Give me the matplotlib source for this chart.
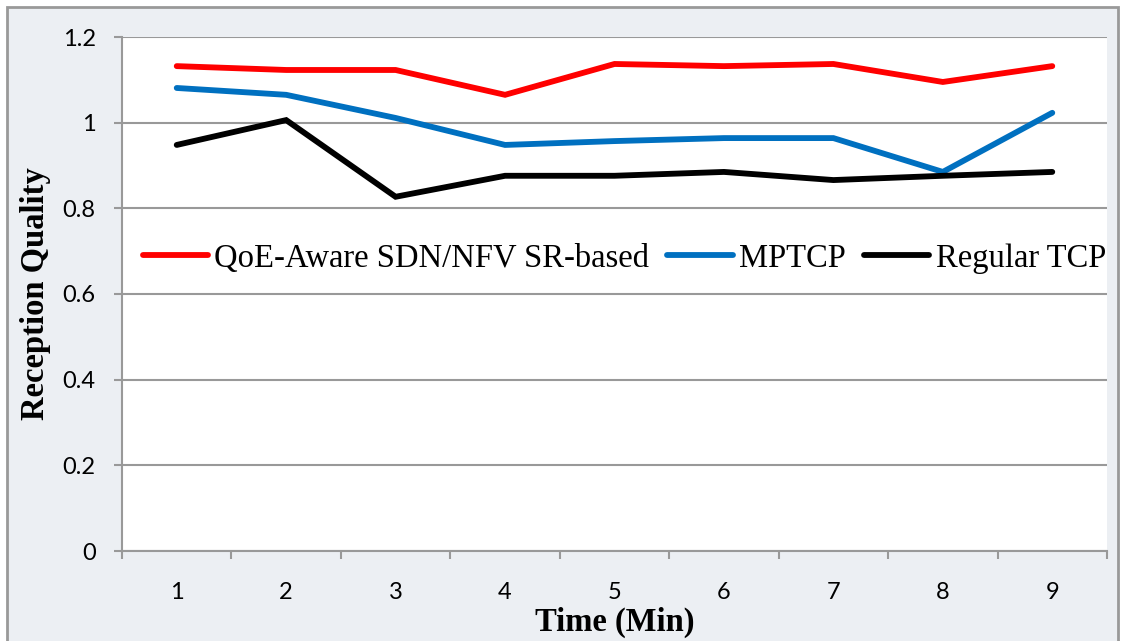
import numpy as np
import matplotlib.pyplot as plt
from matplotlib.patches import Rectangle

# %% Data
minutes = [1, 2, 3, 4, 5, 6, 7, 8, 9]
qoe_sdn = [1.132, 1.123, 1.123, 1.065, 1.137, 1.132, 1.137, 1.095, 1.132]
mptcp = [1.081, 1.065, 1.011, 0.948, 0.957, 0.964, 0.964, 0.885, 1.023]
regular_tcp = [0.948, 1.006, 0.827, 0.876, 0.876, 0.885, 0.866, 0.876, 0.885]

series_labels = ["QoE-Aware SDN/NFV SR-based", "MPTCP", "Regular TCP"]
series_colors = ["#FF0000", "#0070C0", "#000000"]
y_ticks = [0, 0.2, 0.4, 0.6, 0.8, 1.0, 1.2]
y_tick_labels = ["0", "0.2", "0.4", "0.6", "0.8", "1", "1.2"]

serif = ["Liberation Serif", "DejaVu Serif"]
sans = ["Lato", "DejaVu Sans"]
grey = "#999999"

fig = plt.figure(figsize=(11.21, 6.41), dpi=100, facecolor="white")

# chart area background with border (Excel style)
bg = Rectangle((7 / 1121, -0.02), (1118 - 7) / 1121, 1 - 7 / 641 + 0.02,
               transform=fig.transFigure, facecolor="#eceff3",
               edgecolor=grey, lw=2, zorder=-10)
fig.patches.append(bg)

ax = fig.add_axes([122 / 1121, 90 / 641, (1107 - 122) / 1121, (551 - 37) / 641])
ax.set_zorder(1)
ax.set_facecolor("white")

for vals, lab, col in zip([qoe_sdn, mptcp, regular_tcp], series_labels, series_colors):
    ax.plot(minutes, vals, color=col, lw=4.2, solid_capstyle="round",
            solid_joinstyle="miter", label=lab, zorder=3)

ax.set_xlim(0.5, 9.5)
ax.set_ylim(0, 1.2)

ax.set_yticks(y_ticks)
ax.set_yticklabels(y_tick_labels, fontsize=17, family=sans)
ax.yaxis.grid(True, color=grey, lw=1.5)
ax.set_axisbelow(True)

# category axis: tick marks between categories, labels centred on categories
ax.set_xticks(np.arange(0.5, 10, 1.0))
ax.set_xticklabels([])
ax.set_xticks(minutes, minor=True)
ax.set_xticklabels([str(m) for m in minutes], minor=True, fontsize=17, family=sans)
ax.tick_params(axis="x", which="major", length=6, width=1.5, color=grey, direction="out")
ax.tick_params(axis="x", which="minor", length=0, pad=22)
ax.tick_params(axis="y", length=6, width=1.5, color=grey, direction="out", pad=13)

for side in ["top", "right"]:
    ax.spines[side].set_visible(False)
for side in ["left", "bottom"]:
    ax.spines[side].set_color(grey)
    ax.spines[side].set_linewidth(1.5)

ax.set_xlabel("Time (Min)", fontsize=23.5, fontweight="bold", family=serif, labelpad=3)
ax.set_ylabel("Reception Quality", fontsize=23.5, fontweight="bold", family=serif, labelpad=8)

ax.legend(loc="center", bbox_to_anchor=(0.51, 0.569), ncol=3, frameon=False,
          prop={"family": serif, "size": 23.5}, handlelength=2.0,
          handletextpad=0.2, columnspacing=0.55)

plt.savefig("out.png", dpi=100, facecolor=fig.get_facecolor())
